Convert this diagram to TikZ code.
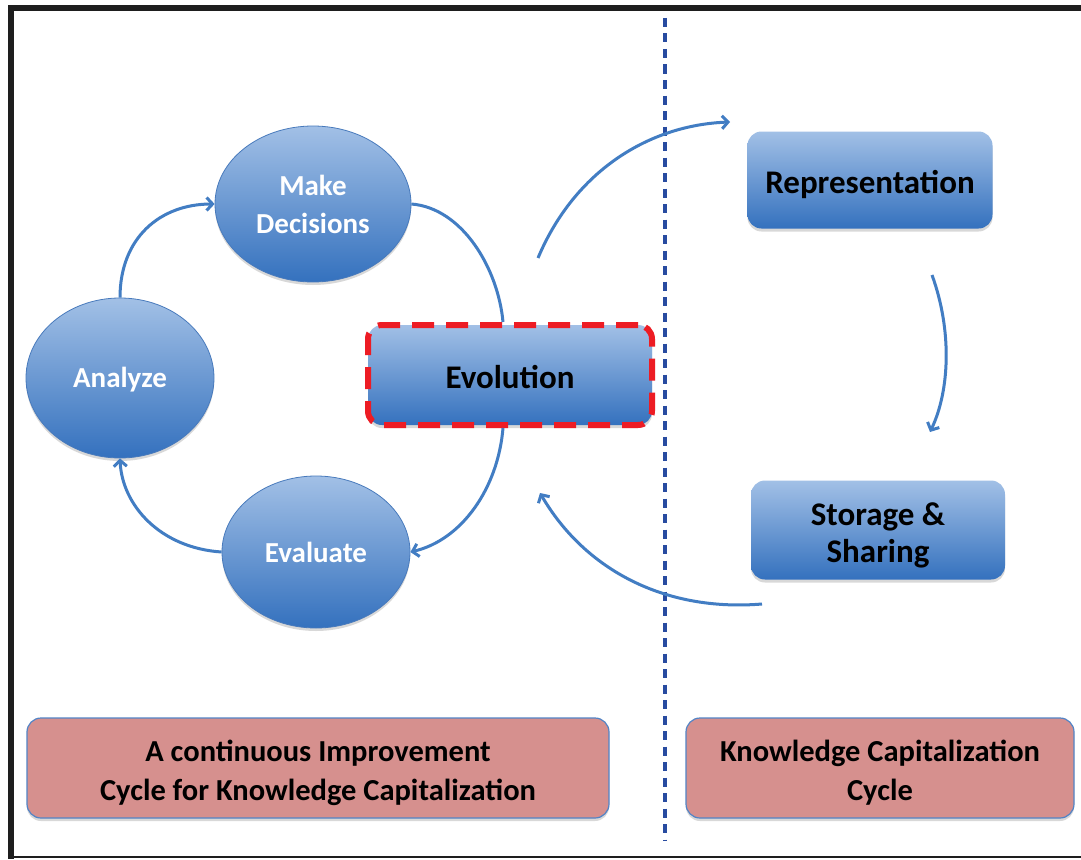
\documentclass[tikz,border=0pt]{standalone}
\usepackage{fontspec}
\setmainfont{Carlito}
\usetikzlibrary{shapes.geometric,arrows.meta,shadows,calc}
\definecolor{arrowblue}{RGB}{66,125,195}
\definecolor{shtop}{RGB}{162,192,230}
\definecolor{shbot}{RGB}{52,113,190}
\definecolor{edgeblue}{RGB}{72,122,188}
\definecolor{pinkfill}{RGB}{214,144,142}
\definecolor{pinkedge}{RGB}{82,132,198}
\definecolor{dashred}{RGB}{237,28,36}
\definecolor{sepblue}{RGB}{40,75,160}
\definecolor{framegray}{RGB}{30,30,30}
\newcommand{\lift}[1]{\rule{0pt}{#1pt}}
\begin{document}
\begin{tikzpicture}[x=1pt,y=-1pt,
  oval/.style={ellipse, inner sep=0pt, top color=shtop, bottom color=shbot, draw=edgeblue, line width=0.8pt,
    drop shadow={opacity=0.3, shadow xshift=0pt, shadow yshift=-3pt},
    text=white, font=\fontsize{29}{38}\selectfont\bfseries, align=center},
  bluebox/.style={rectangle, rounded corners=14pt, inner sep=0pt, top color=shtop, bottom color=shbot,
    drop shadow={opacity=0.3, shadow xshift=0pt, shadow yshift=-3pt},
    text=black, font=\fontsize{33}{37}\selectfont\bfseries, align=center},
  pinkbox/.style={rectangle, rounded corners=14pt, inner sep=0pt, fill=pinkfill, draw=pinkedge, line width=1.2pt,
    drop shadow={opacity=0.3, shadow xshift=0pt, shadow yshift=-3pt},
    text=black, font=\fontsize{30.5}{39}\selectfont\bfseries, align=center},
  flow/.style={draw=arrowblue, line width=3pt},
  flowarrow/.style={flow, -{Straight Barb[length=6pt,width=13pt]}},
]
\useasboundingbox (0,0) rectangle (1081,859);
\fill[white] (0,0) rectangle (1081,859);
% frame
\fill[framegray] (8,5) rectangle (1081,11);
\fill[framegray] (8,5) rectangle (14,859);
\fill[framegray] (8,856) rectangle (1081,858);

% separator
\coordinate (dtop) at (665,18);
\coordinate (dbot) at (665,840);
\draw[sepblue, line width=3.3pt, dash pattern=on 9pt off 6.5pt] (dtop) -- (dbot);

% nodes
\node[oval, minimum width=196pt, minimum height=156pt] (md) at (313,204) {Make\\Decisions};
\node[oval, minimum width=188pt, minimum height=160pt] (an) at (120,378) {\lift{24}Analyze};
\node[oval, minimum width=188pt, minimum height=152pt] (el) at (316,552) {\lift{22}Evaluate};
\node[bluebox, minimum width=284pt, minimum height=100pt, draw=dashred, line width=6pt, dash pattern=on 22pt off 12pt] (ev) at (510,375) {\lift{27}Evolution};
\node[bluebox, minimum width=245pt, minimum height=97pt] (rep) at (870,180) {\lift{33}Representation};
\node[bluebox, minimum width=254pt, minimum height=99pt] (ss) at (878,530) {\lift{33}Storage \&\\Sharing};
\node[pinkbox, minimum width=582pt, minimum height=100pt] (bl) at (318,768) {\lift{31}A continuous Improvement\\Cycle for Knowledge Capitalization};
\node[pinkbox, minimum width=388pt, minimum height=100pt] (br) at (880,768) {\lift{31}Knowledge Capitalization\\Cycle};

% left cycle
\coordinate (evtop) at ([xshift=-7pt]ev.north);
\coordinate (evbot) at ([xshift=-7pt]ev.south);
\draw[flowarrow] (an.north) .. controls (120,238) and (160,204) .. (md.west);
\draw[flow] (md.east) .. controls (462,208) and (498,268) .. (evtop);
\draw[flowarrow] (evbot) .. controls (498,488) and (462,540) .. (el.east);
\draw[flowarrow] (el.west) .. controls (160,548) and (122,505) .. (an.south);

% right cycle
\coordinate (a5s) at (538,258);
\coordinate (a5e) at (730,122);
\coordinate (a6s) at (932,275);
\coordinate (a6e) at (930,432);
\coordinate (a7s) at (762,604);
\coordinate (a7e) at (540,493);
\draw[flowarrow] (a5s) .. controls (575,170) and (650,125) .. (a5e);
\draw[flowarrow] (a6s) .. controls (952,330) and (950,390) .. (a6e);
\draw[flowarrow] (a7s) .. controls (665,612) and (585,570) .. (a7e);
\end{tikzpicture}
\end{document}
